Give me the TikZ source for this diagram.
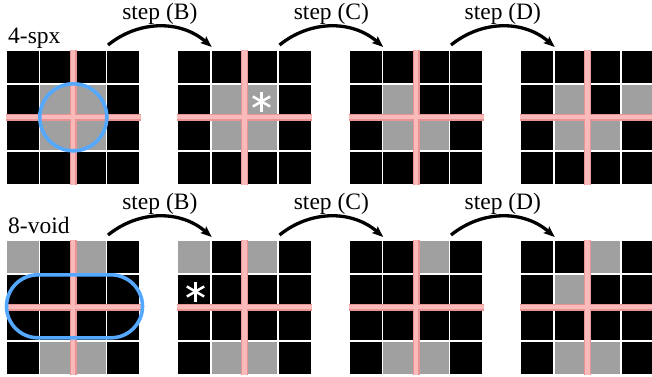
\documentclass[tikz,border=0pt]{standalone}
\usepackage{fontspec}
\setmainfont{Liberation Serif}
\usetikzlibrary{arrows.meta}
\definecolor{cellgray}{RGB}{160,160,160}
\definecolor{pinkedge}{RGB}{232,148,148}
\definecolor{pinkcore}{RGB}{250,186,186}
\definecolor{ringblue}{RGB}{85,168,255}
\tikzset{
  lbl/.style={font=\fontsize{23.5}{23.5}\selectfont, anchor=base, inner sep=0pt},
  stepa/.style={line width=3.3pt, -{Stealth[length=11pt,width=8.5pt,inset=2pt]}},
  ring/.style={draw=ringblue, line width=3.6pt},
  astx/.style={draw=white, line width=2.5pt},
}
\newcommand\mygrid[3]{%
  \foreach \r in {1,...,4}{\foreach \c in {1,...,4}{
    \fill[black] ({#1+33.5*(\c-1)}, {#2+33.5*(\r-1)}) rectangle ++(32,32);
  }}
  \foreach \r/\c in {#3}{
    \fill[cellgray] ({#1+33.5*(\c-1)}, {#2+33.5*(\r-1)}) rectangle ++(32,32);
  }
  \foreach \w/\cl in {7/pinkedge, 4.5/pinkcore}{
    \draw[line width=\w pt, \cl] ({#1+66.5}, {#2-1}) -- ++(0,135);
    \draw[line width=\w pt, \cl] ({#1-1}, {#2+66}) -- ++(135,0);
  }
}
\newcommand\myast[1]{%
  \foreach \a in {90,30,-30}{
    \draw[astx] (#1) ++(\a:10) -- ++(\a+180:20);
  }
}
\begin{document}
\begin{tikzpicture}[x=1pt,y=-1pt]
\useasboundingbox (0,0) rectangle (652,376);
% top row
\mygrid{6.7}{51}{2/2,2/3,3/2,3/3}
\mygrid{178.2}{51}{2/2,2/3,3/2,3/3}
\mygrid{349.7}{51}{2/2,3/2,3/3}
\mygrid{521.2}{51}{2/2,3/2,3/3,2/4}
% bottom row
\mygrid{6.7}{241}{1/1,1/3,4/2,4/3}
\mygrid{178.2}{241}{1/1,1/3,4/2,4/3}
\mygrid{349.7}{241}{1/3,4/2,4/3}
\mygrid{521.2}{241}{1/3,2/2,4/2,4/3}
% blue outlines
\draw[ring] (73.3,117.3) circle (33.5);
\draw[ring, rounded corners=31.5pt] (6.5,274.8) rectangle (142.5,337.8);
% asterisks
\coordinate (ast1) at (261.5,101.5);
\coordinate (ast2) at (195.5,291.5);
\myast{ast1}
\myast{ast2}
% labels
\node[lbl, anchor=base west] (l4) at (8,43.3) {4-spx};
\node[lbl, anchor=base west] (l8) at (8,233.3) {8-void};
% arrows
\foreach \i/\xa/\xb/\L in {1/108/211.7/B, 2/279.5/383.2/C, 3/451/554.7/D}{
  \coordinate (ts\i) at (\xa,45);
  \coordinate (te\i) at (\xb,47);
  \draw[stepa] (ts\i) to[bend left=40] (te\i);
  \node[lbl] (tl\i) at ({(\xa+\xb)/2},19) {step (\L)};
  \coordinate (bs\i) at (\xa,235);
  \coordinate (be\i) at (\xb,237);
  \draw[stepa] (bs\i) to[bend left=40] (be\i);
  \node[lbl] (bl\i) at ({(\xa+\xb)/2},209) {step (\L)};
}
\end{tikzpicture}
\end{document}
